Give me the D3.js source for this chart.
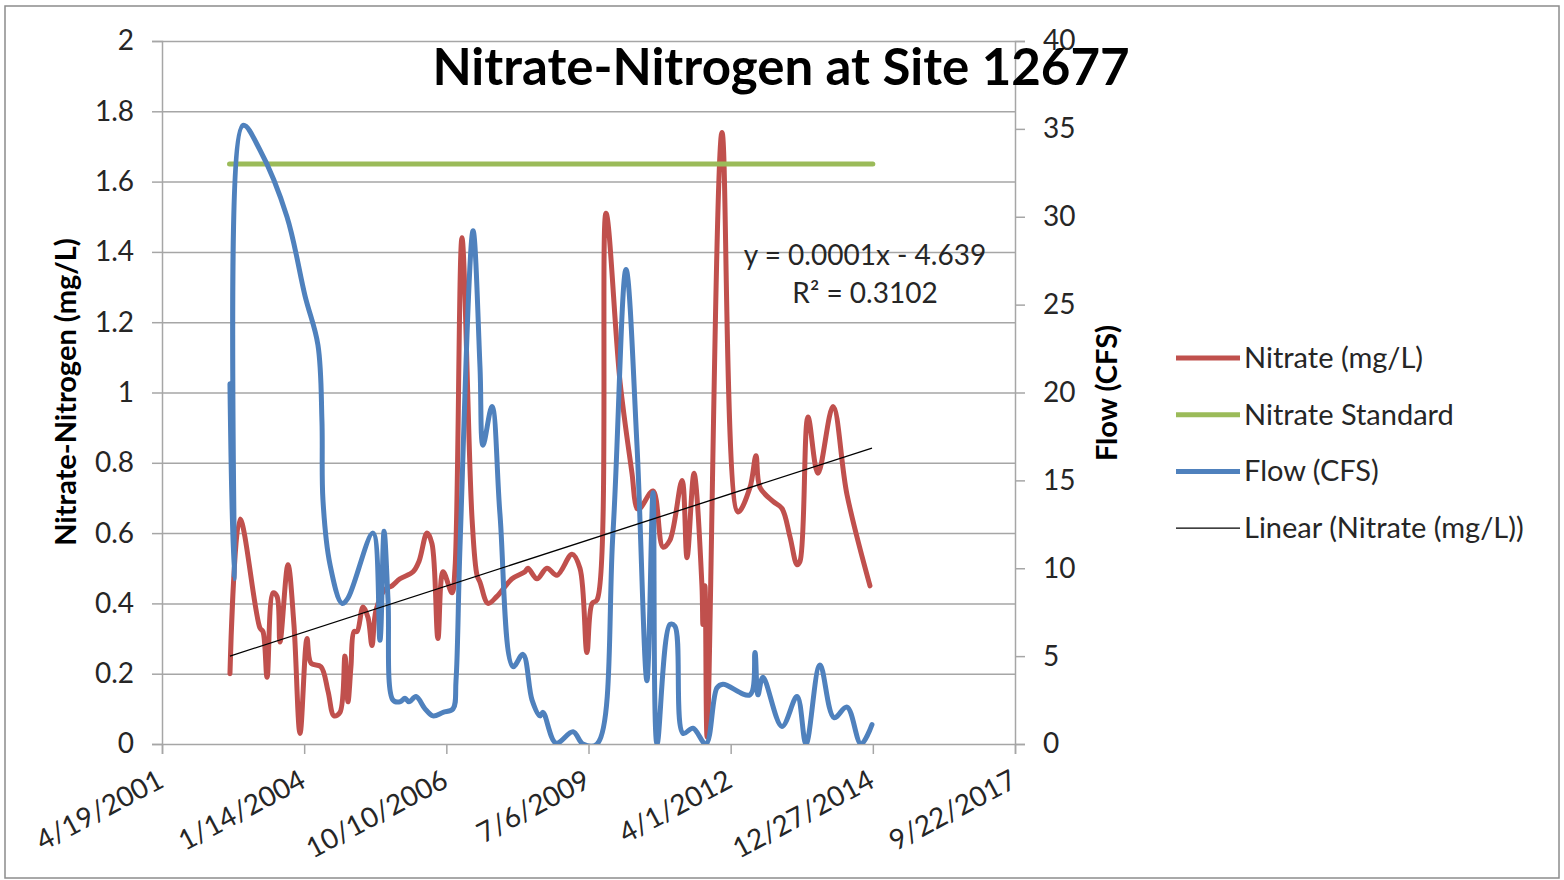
<!DOCTYPE html>
<html><head><meta charset="utf-8">
<script src="https://cdn.jsdelivr.net/npm/d3@7"></script>
<style>
body{margin:0;background:#fff;}
text{font-family:Lato,"Open Sans",sans-serif;}
</style>
</head><body>
<svg id="chart" width="1564" height="880"></svg>
<script>
// ---- data (x values are Excel date serials) ----
const xTickSerials = [37000, 38000, 39000, 40000, 41000, 42000, 43000];
const xTickLabels = ["4/19/2001","1/14/2004","10/10/2006","7/6/2009","4/1/2012","12/27/2014","9/22/2017"];
const leftTicks = [0,0.2,0.4,0.6,0.8,1,1.2,1.4,1.6,1.8,2];
const leftTickLabels = ["0","0.2","0.4","0.6","0.8","1","1.2","1.4","1.6","1.8","2"];
const rightTicks = [0,5,10,15,20,25,30,35,40];
const rightTickLabels = ["0","5","10","15","20","25","30","35","40"];

const nitrateDays = [37478,37549,37689,37710,37739,37781,37809,37830,37886,37928,37971,38020,38048,38118,38168,38210,38252,38287,38308,38329,38351,38372,38414,38449,38477,38505,38569,38618,38674,38766,38808,38864,38899,38941,38977,39040,39061,39110,39181,39216,39237,39293,39356,39462,39553,39574,39638,39708,39778,39884,39940,39989,40025,40060,40123,40222,40306,40341,40362,40454,40524,40573,40658,40693,40742,40798,40805,40819,40834,40939,41052,41136,41178,41206,41298,41361,41417,41467,41488,41544,41614,41720,41818,41980];
const nitrateValues = [0.20,0.64,0.33,0.32,0.19,0.43,0.42,0.29,0.51,0.34,0.03,0.30,0.23,0.22,0.15,0.08,0.09,0.25,0.12,0.22,0.32,0.32,0.39,0.36,0.28,0.38,0.44,0.45,0.47,0.49,0.52,0.60,0.57,0.30,0.49,0.43,0.50,1.44,0.64,0.48,0.46,0.40,0.42,0.47,0.49,0.50,0.47,0.50,0.48,0.54,0.50,0.26,0.40,0.41,1.51,1.03,0.77,0.67,0.67,0.72,0.56,0.58,0.75,0.53,0.77,0.45,0.34,0.45,0.02,1.74,0.66,0.73,0.82,0.73,0.69,0.67,0.59,0.51,0.52,0.93,0.77,0.96,0.71,0.45];

const flowDays = [37478,37506,37570,37689,37879,38006,38097,38125,38132,38182,38266,38308,38484,38533,38562,38590,38625,38674,38709,38737,38787,38850,38906,38977,39047,39068,39096,39188,39237,39258,39321,39377,39469,39539,39603,39659,39680,39771,39891,39961,40060,40172,40264,40341,40411,40454,40482,40573,40608,40665,40735,40826,40904,40946,41136,41171,41192,41227,41361,41467,41530,41628,41727,41818,41917,41994];
const flowValues = [20.5,9.4,35.2,33.8,30.0,25.5,22.7,18.4,13.9,10.2,8.0,8.3,12.0,5.9,12.1,8.2,2.5,2.4,2.6,2.4,2.7,2.0,1.6,1.8,2.0,3.6,11.2,29.2,21.4,17.0,19.2,13.1,4.4,5.1,2.5,1.6,1.8,0.05,0.7,0,0,12.0,27.0,17.0,3.6,14.3,0,6.8,6.7,0.6,0.9,0,3.2,3.4,2.8,5.2,2.8,3.8,1.0,2.7,0,4.5,1.5,2.1,0,1.1];

const standardDays = [37475, 42000];
const standardValues = [1.65, 1.65];
const trendDays = [37478, 41994];
const trendValues = [0.25, 0.842];

const titleText = "Nitrate-Nitrogen at Site 12677";
const leftTitle = "Nitrate-Nitrogen (mg/L)";
const rightTitle = "Flow (CFS)";
const equationLines = ["y = 0.0001x - 4.639", "R² = 0.3102"];
const legendLabels = ["Nitrate (mg/L)", "Nitrate Standard", "Flow (CFS)", "Linear (Nitrate (mg/L))"];

// ---- chart ----
const svg = d3.select("#chart");
const W = 1564, H = 880;
const plot = {left:162, right:1015, top:41, bottom:744};
const colors = {red:"#C0504D", green:"#9BBB59", blue:"#4F81BD", trend:"#000000", grid:"#A6A6A6", text:"#262626"};

const toDate = s => new Date(Date.UTC(1899, 11, 30) + s * 864e5);

svg.append("rect").attr("x",5).attr("y",6).attr("width",W-10).attr("height",H-8)
  .attr("fill","#fff").attr("stroke","#8C8C8C").attr("stroke-width",1.5);

const x = d3.scaleUtc().domain([toDate(xTickSerials[0]), toDate(xTickSerials[xTickSerials.length-1])]).range([plot.left, plot.right]);
const yL = d3.scaleLinear().domain([0,2]).range([plot.bottom, plot.top]);
const yR = d3.scaleLinear().domain([0,40]).range([plot.bottom, plot.top]);

// gridlines
svg.append("g").attr("transform",`translate(${plot.left},0)`)
  .call(d3.axisLeft(yL).tickValues(leftTicks.slice(1)).tickSize(-(plot.right-plot.left)).tickFormat(""))
  .call(g=>g.select(".domain").remove())
  .call(g=>g.selectAll("line").attr("stroke",colors.grid).attr("stroke-width",1.5));

// left axis
const fs = 28;
svg.append("g").attr("transform",`translate(${plot.left},0)`)
  .call(d3.axisLeft(yL).tickValues(leftTicks).tickSize(10).tickPadding(18).tickFormat((d,i)=>leftTickLabels[i]))
  .call(g=>g.select(".domain").attr("stroke",colors.grid).attr("stroke-width",1.5))
  .call(g=>g.selectAll("line").attr("stroke",colors.grid).attr("stroke-width",1.5))
  .call(g=>g.selectAll("text").attr("font-size",fs).attr("fill",colors.text).attr("font-family","Lato"));

// right axis
svg.append("g").attr("transform",`translate(${plot.right},0)`)
  .call(d3.axisRight(yR).tickValues(rightTicks).tickSize(10).tickPadding(18).tickFormat((d,i)=>rightTickLabels[i]))
  .call(g=>g.select(".domain").attr("stroke",colors.grid).attr("stroke-width",1.5))
  .call(g=>g.selectAll("line").attr("stroke",colors.grid).attr("stroke-width",1.5))
  .call(g=>g.selectAll("text").attr("font-size",fs).attr("fill",colors.text).attr("font-family","Lato"));

// bottom axis
svg.append("g").attr("transform",`translate(0,${plot.bottom})`)
  .call(d3.axisBottom(x).tickValues(xTickSerials.map(toDate)).tickSize(10).tickFormat((d,i)=>xTickLabels[i]))
  .call(g=>g.select(".domain").attr("stroke",colors.grid).attr("stroke-width",1.5))
  .call(g=>g.selectAll("line").attr("stroke",colors.grid).attr("stroke-width",1.5))
  .call(g=>g.selectAll("text").attr("font-size",fs).attr("fill",colors.text).attr("font-family","Lato")
     .attr("text-anchor","end").attr("x",3).attr("y",42).attr("dy",0)
     .attr("transform","rotate(-28,3,42)"));

// clip
svg.append("clipPath").attr("id","clip").append("rect")
  .attr("x",plot.left).attr("y",plot.top-20).attr("width",plot.right-plot.left).attr("height",plot.bottom-plot.top+20);

const curve = d3.curveCatmullRom.alpha(0.5);
const layer = svg.append("g").attr("clip-path","url(#clip)");

const nitrate = nitrateDays.map((d,i)=>({x:toDate(d), y:nitrateValues[i]}));
const flow = flowDays.map((d,i)=>({x:toDate(d), y:flowValues[i]}));
const standard = standardDays.map((d,i)=>({x:toDate(d), y:standardValues[i]}));
const trend = trendDays.map((d,i)=>({x:toDate(d), y:trendValues[i]}));

const lineL = d3.line().x(d=>x(d.x)).y(d=>yL(d.y)).curve(curve);
const lineR = d3.line().x(d=>x(d.x)).y(d=>yR(d.y)).curve(curve);
const lineStraight = d3.line().x(d=>x(d.x)).y(d=>yL(d.y));

layer.append("path").datum(nitrate).attr("d",lineL).attr("fill","none").attr("stroke",colors.red).attr("stroke-width",5).attr("stroke-linejoin","round").attr("stroke-linecap","round");
layer.append("path").datum(standard).attr("d",lineStraight).attr("fill","none").attr("stroke",colors.green).attr("stroke-width",5).attr("stroke-linecap","round");
layer.append("path").datum(flow).attr("d",lineR).attr("fill","none").attr("stroke",colors.blue).attr("stroke-width",5).attr("stroke-linejoin","round").attr("stroke-linecap","round");
layer.append("path").datum(trend).attr("d",lineStraight).attr("fill","none").attr("stroke",colors.trend).attr("stroke-width",1.3);

// equation
const eq = svg.append("text").attr("font-size",28).attr("fill",colors.text).attr("text-anchor","middle");
eq.append("tspan").attr("x",865).attr("y",265).text(equationLines[0]);
eq.append("tspan").attr("x",865).attr("y",303).text(equationLines[1]);

// title
svg.append("text").attr("x",781).attr("y",85).attr("text-anchor","middle")
  .attr("font-size",51).attr("font-weight","bold").attr("fill","#000").text(titleText);

// axis titles
svg.append("text").attr("transform","translate(76,392) rotate(-90)").attr("text-anchor","middle")
  .attr("font-size",29).attr("font-weight","bold").attr("fill","#000").text(leftTitle);
svg.append("text").attr("transform","translate(1117,393) rotate(-90)").attr("text-anchor","middle")
  .attr("font-size",29).attr("font-weight","bold").attr("fill","#000").text(rightTitle);

// legend
const legendColors = [colors.red, colors.green, colors.blue, colors.trend];
const legendWidths = [5,5,5,1.3];
const lg = svg.append("g");
legendLabels.forEach((t,i)=>{
  const yy = 358 + i*56.7;
  lg.append("line").attr("x1",1176).attr("x2",1240).attr("y1",yy).attr("y2",yy)
    .attr("stroke",legendColors[i]).attr("stroke-width",legendWidths[i]);
  lg.append("text").attr("x",1244).attr("y",yy+10).attr("font-size",29).attr("fill",colors.text).text(t);
});
</script>
</body></html>
